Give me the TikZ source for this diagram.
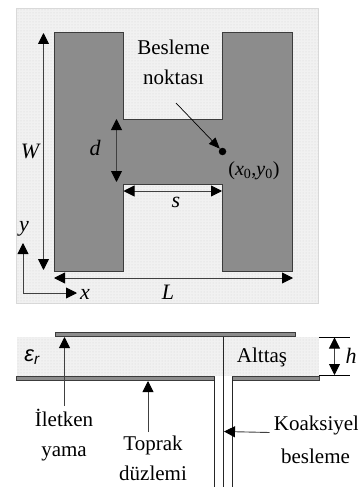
\documentclass[tikz,border=0pt]{standalone}
\usepackage{fontspec}
\setmainfont{Liberation Serif}
\newfontfamily\epsfont{Liberation Sans}
\usetikzlibrary{arrows.meta,patterns}
\definecolor{subfill}{HTML}{F1F1F1}
\definecolor{subdot}{HTML}{D4D4D4}
\definecolor{metal}{HTML}{8C8C8C}
\definecolor{edgegray}{HTML}{3C3C3C}
\tikzset{
  lbl/.style={inner sep=0pt,font=\fontsize{21}{30}\selectfont,align=center},
  ital/.style={inner sep=0pt,font=\fontsize{22}{26}\selectfont\itshape},
  substrate/.style={fill=subfill,postaction={pattern=dots,pattern color=subdot}},
  metalpart/.style={fill=metal,draw=edgegray,line width=0.9pt},
  tiparrow/.style={line width=0.9pt,color=black!75,{Triangle[length=11pt,width=11pt,color=black]}-{Triangle[length=11pt,width=11pt,color=black]}},
  onearrow/.style={line width=0.9pt,color=black!75,-{Triangle[length=11pt,width=11pt,color=black]}},
  coax/.style={line width=1.2pt,color=black!85},
}
\begin{document}
\begin{tikzpicture}[x=1pt,y=-1pt]
\useasboundingbox[fill=white] (0,0) rectangle (358,487);
% top view
\path[substrate,draw=black!15,line width=0.8pt] (16.5,8) rectangle (318.5,303);
\path[metalpart] (54.5,32.5) -- (123.5,32.5) -- (123.5,119) -- (222.5,119) -- (222.5,32.5) -- (292,32.5) -- (292,271.5) -- (222.5,271.5) -- (222.5,184.5) -- (123.5,184.5) -- (123.5,271.5) -- (54.5,271.5) -- cycle;
\coordinate (wt) at (43.5,33); \coordinate (wb) at (43.5,270);
\coordinate (dt) at (116.5,119); \coordinate (db) at (116.5,182);
\coordinate (sl) at (123.5,191); \coordinate (sr) at (222,191);
\coordinate (ll) at (54,278); \coordinate (lr) at (293,278);
\coordinate (org) at (23,293); \coordinate (yend) at (23,243); \coordinate (xend) at (77,293);
\draw[tiparrow] (wt) -- (wb);
\draw[tiparrow] (dt) -- (db);
\draw[tiparrow] (sl) -- (sr);
\draw[tiparrow] (ll) -- (lr);
\draw[onearrow] (org) -- (yend);
\draw[onearrow] (org) -- (xend);
\node[ital] (W) at (30,151) {W};
\node[ital] (d) at (95,148) {d};
\node[ital] (s) at (176,202) {s};
\node[ital] (L) at (168,292) {L};
\node[ital] (x) at (85,294) {x};
\node[ital] (y) at (24,229) {y};
\node[lbl] (bes) at (173.5,62) {Besleme\\noktası};
\node[circle,fill=black,inner sep=0pt,minimum size=7.5pt] (dot) at (222.5,151.5) {};
\coordinate (pstart) at (176,103);
\draw[line width=0.7pt,-{Triangle[length=11pt,width=9pt]}] (pstart) -- (dot);
\node[lbl,font=\fontsize{20}{24}\selectfont] (feed) at (254,171) {(\textit{x}\textsubscript{0},\textit{y}\textsubscript{0})};
% side view
\path[substrate] (16.5,337) rectangle (319,376);
\path[metalpart] (55.5,332) rectangle (295,336.5);
\path[metalpart] (16.5,376.5) rectangle (214,380);
\path[metalpart] (232.5,376.5) rectangle (319,380);
\fill[white] (214.5,376) rectangle (232,380.5);
\coordinate (c1a) at (214.5,376.5); \coordinate (c1b) at (214.5,487);
\coordinate (c2a) at (232.5,376.5); \coordinate (c2b) at (232.5,487);
\coordinate (c3a) at (223.5,336.5); \coordinate (c3b) at (223.5,487);
\draw[coax] (c1a) -- (c1b);
\draw[coax] (c2a) -- (c2b);
\draw[coax] (c3a) -- (c3b);
\coordinate (ht1) at (319,337); \coordinate (ht2) at (350,337);
\coordinate (hb1) at (319,375.5); \coordinate (hb2) at (350,375.5);
\draw[line width=0.8pt,black] (ht1) -- (ht2);
\draw[line width=0.8pt,black] (hb1) -- (hb2);
\coordinate (ha) at (334.5,337.5); \coordinate (hbb) at (334.5,375);
\draw[tiparrow] (ha) -- (hbb);
\node[ital] (h) at (351,356) {h};
\node[lbl] (alt) at (262,357) {Alttaş};
\node[inner sep=0pt,font=\epsfont\itshape\fontsize{22}{26}\selectfont] (eps) at (32,357) {ε\textsubscript{r}};
\node[lbl] (ilet) at (64,435.5) {İletken\\yama};
\node[lbl] (top) at (153,458.5) {Toprak\\düzlemi};
\node[lbl] (koa) at (316.5,425) {Koaksiyel};
\node[lbl] (bsl) at (315.5,456) {besleme};
\coordinate (i1) at (64.5,406); \coordinate (i2) at (64.5,337);
\coordinate (t1) at (148,432); \coordinate (t2) at (148,381);
\coordinate (k1) at (269.5,432.5); \coordinate (k2) at (224,431.5);
\draw[onearrow] (i1) -- (i2);
\draw[onearrow] (t1) -- (t2);
\draw[onearrow] (k1) -- (k2);
\end{tikzpicture}
\end{document}
